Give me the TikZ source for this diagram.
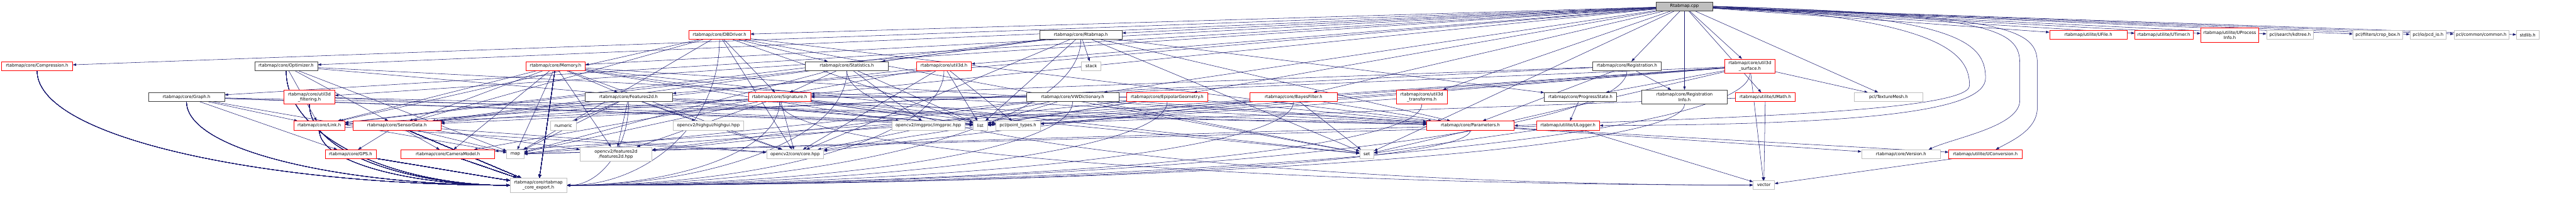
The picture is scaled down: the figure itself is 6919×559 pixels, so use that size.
\documentclass[tikz,border=0pt]{standalone}
\usepackage{fontspec}
\setmainfont{DejaVu Sans}
\usetikzlibrary{arrows.meta,backgrounds,calc}
\definecolor{edgeblue}{HTML}{191970}
\definecolor{nodegray}{HTML}{BFBFBF}
\definecolor{nodeblack}{HTML}{404040}
\definecolor{nodered}{HTML}{FF0000}
\tikzset{
  nd/.style={rectangle, fill=white, inner sep=0pt, minimum height=24pt, align=center,
    line width=1pt, font=\fontsize{11.5}{14}\selectfont},
  tall/.style={minimum height=38pt},
  rootnode/.style={nd, draw=nodeblack, fill=nodegray},
  blknode/.style={nd, draw=nodeblack},
  rednode/.style={nd, draw=nodered},
  graynode/.style={nd, draw=nodegray},
  dep/.style={draw=edgeblue, line width=0.9pt, -{Triangle[length=9pt,width=6.5pt]}}
}
% curved edge arriving horizontally at the east / west side of a target
\newcommand{\depE}[2]{\draw[dep] (#1.south) .. controls ($(#1.south)!0.6!(#1.south |- #2.east)$)
  and ($(#2.east)!0.5!(#1.south |- #2.east)$) .. (#2.east);}
\newcommand{\depW}[2]{\draw[dep] (#1.south) .. controls ($(#1.south)!0.6!(#1.south |- #2.west)$)
  and ($(#2.west)!0.5!(#1.south |- #2.west)$) .. (#2.west);}
\begin{document}
\begin{tikzpicture}[x=1pt,y=-1pt]
\useasboundingbox (0,0) rectangle (6919,559);
% row 0
\node[rootnode, minimum width=153pt] (cpp) at (4524.5,17) {Rtabmap.cpp};
% row 1
\node[rednode, minimum width=165pt] (dbdriver) at (1932.5,94) {rtabmap/core/DBDriver.h};
\node[blknode, minimum width=222pt] (rtabh) at (2903,94) {rtabmap/core/Rtabmap.h};
\node[rednode, minimum width=208pt] (ufile) at (5609,94) {rtabmap/utilite/UFile.h};
\node[rednode, minimum width=156pt] (utimer) at (5812,94) {rtabmap/utilite/UTimer.h};
\node[rednode, tall, minimum width=156pt] (uproc) at (5989,94) {rtabmap/utilite/UProcess\\Info.h};
\node[graynode, minimum width=126pt] (kdtree) at (6151,94) {pcl/search/kdtree.h};
\node[graynode, minimum width=133pt] (cropbox) at (6386.5,94) {pcl/filters/crop\_box.h};
\node[graynode, minimum width=97pt] (pcdio) at (6521.5,94) {pcl/io/pcd\_io.h};
\node[graynode, minimum width=147pt] (pclcommon) at (6664.5,94) {pcl/common/common.h};
\node[graynode, minimum width=60pt] (stdlib) at (6789,94) {stdlib.h};
% row 2
\node[rednode, minimum width=191pt] (compression) at (99.5,177.5) {rtabmap/core/Compression.h};
\node[blknode, minimum width=169pt] (optimizer) at (768.5,177.5) {rtabmap/core/Optimizer.h};
\node[rednode, minimum width=160pt] (memory) at (1492,177.5) {rtabmap/core/Memory.h};
\node[blknode, minimum width=223pt] (statistics) at (2274.5,177.5) {rtabmap/core/Statistics.h};
\node[rednode, minimum width=147pt] (utilthreed) at (2535.5,177.5) {rtabmap/core/util3d.h};
\node[graynode, minimum width=52pt] (nstack) at (2931,177.5) {stack};
\node[blknode, minimum width=184pt] (registration) at (4370,177.5) {rtabmap/core/Registration.h};
\node[rednode, tall, minimum width=136pt] (usurf) at (4700,177.5) {rtabmap/core/util3d\\\_surface.h};
% row 3
\node[blknode, minimum width=204pt] (graph) at (501,261) {rtabmap/core/Graph.h};
\node[rednode, tall, minimum width=136pt] (ufilt) at (831,261) {rtabmap/core/util3d\\\_filtering.h};
\node[blknode, minimum width=235pt] (feat) at (1688.5,261) {rtabmap/core/Features2d.h};
\node[rednode, minimum width=168pt] (signature) at (2094,261) {rtabmap/core/Signature.h};
\node[blknode, minimum width=248pt] (vwdict) at (2881,261) {rtabmap/core/VWDictionary.h};
\node[rednode, minimum width=218pt] (epipolar) at (3135,261) {rtabmap/core/EpipolarGeometry.h};
\node[rednode, minimum width=235pt] (bayes) at (3474.5,261) {rtabmap/core/BayesFilter.h};
\node[rednode, tall, minimum width=136pt] (utrans) at (3819,261) {rtabmap/core/util3d\\\_transforms.h};
\node[blknode, minimum width=194pt] (progress) at (4245,261) {rtabmap/core/ProgressState.h};
\node[blknode, tall, minimum width=229pt] (reginfo) at (4524.5,261) {rtabmap/core/Registration\\Info.h};
\node[rednode, minimum width=161pt] (umath) at (4741.5,261) {rtabmap/utilite/UMath.h};
\node[graynode, minimum width=183pt] (texmesh) at (5072.5,261) {pcl/TextureMesh.h};
% row 4
\node[rednode, minimum width=137pt] (link) at (857.5,337.5) {rtabmap/core/Link.h};
\node[rednode, minimum width=236pt] (sensordata) at (1066,337.5) {rtabmap/core/SensorData.h};
\node[graynode, minimum width=68pt] (numeric) at (1513,337.5) {numeric};
\node[graynode, minimum width=189pt] (highgui) at (1902.5,337.5) {opencv2/highgui/highgui.hpp};
\node[graynode, minimum width=197pt] (imgproc) at (2493.5,337.5) {opencv2/imgproc/imgproc.hpp};
\node[graynode, minimum width=38pt] (nlist) at (2633,337.5) {list};
\node[graynode, minimum width=120pt] (ptypes) at (2734,337.5) {pcl/point\_types.h};
\node[rednode, minimum width=235pt] (params) at (3949.5,337.5) {rtabmap/core/Parameters.h};
\node[rednode, minimum width=169pt] (ulogger) at (4211.5,337.5) {rtabmap/utilite/ULogger.h};
% row 5
\node[rednode, minimum width=137pt] (gps) at (941.5,414.5) {rtabmap/core/GPS.h};
\node[rednode, minimum width=252pt] (camera) at (1203,414.5) {rtabmap/core/CameraModel.h};
\node[graynode, minimum width=46pt] (nmap) at (1384,414.5) {map};
\node[graynode, tall, minimum width=193pt] (fhpp) at (1654.5,414.5) {opencv2/features2d\\/features2d.hpp};
\node[graynode, minimum width=153pt] (corehpp) at (2135.5,414.5) {opencv2/core/core.hpp};
\node[graynode, minimum width=38pt] (nset) at (3671,414.5) {set};
\node[graynode, minimum width=212pt] (version) at (5106,414.5) {rtabmap/core/Version.h};
\node[rednode, minimum width=197pt] (uconv) at (5332.5,414.5) {rtabmap/utilite/UConversion.h};
% row 6
\node[graynode, tall, minimum width=152pt] (nexport) at (1446,498) {rtabmap/core/rtabmap\\\_core\_export.h};
\node[graynode, minimum width=57pt, minimum height=23pt] (nvector) at (4737.5,497.5) {vector};

\begin{pgfonlayer}{background}
\fill[white] (0,0) rectangle (6919,559);
% Rtabmap.cpp
\foreach \t in {rtabh,dbdriver,ufile,utimer,uproc,kdtree,cropbox,pcdio,pclcommon,stdlib,
  compression,optimizer,memory,utilthreed,registration,usurf,graph,ufilt,feat,signature,
  vwdict,epipolar,bayes,utrans,reginfo,umath,texmesh,nset}
  \draw[dep] (cpp) -- (\t);
\draw[dep] (cpp.east) .. controls (5250,45) and (5333,110) .. (5333,210)
  .. controls (5333,300) and (5000,335) .. (ulogger.east);
\draw[dep] (cpp.east) .. controls (5230,50) and (5290,150) .. (5290,230)
  .. controls (5290,300) and (4600,318) .. (params.east);
\draw[dep] (cpp.east) .. controls (5350,40) and (5425,80) .. (5425,170) -- (5425,270)
  .. controls (5425,340) and (5250,370) .. ($(version.north)+(74,0)$);
\draw[dep] (cpp.east) .. controls (5400,40) and (5472,80) .. (5472,170) -- (5472,290)
  .. controls (5472,350) and (5400,380) .. ($(uconv.north)+(28,0)$);
% edges into rtabmap_core_export.h
\foreach \s in {rtabh,dbdriver,statistics,feat,signature,utilthreed,vwdict,epipolar,bayes,
  utrans,params,registration,reginfo,usurf}
  \depE{\s}{nexport}
\foreach \s in {compression,graph,optimizer,ufilt,link}
  \depW{\s}{nexport}
\foreach \s in {memory,sensordata,gps,camera}
  \draw[dep] (\s) -- (nexport);
% Rtabmap.h
\foreach \t in {params,sensordata,statistics,link,progress,corehpp,nlist,nstack,nset}
  \draw[dep] (rtabh) -- (\t);
% DBDriver
\foreach \t in {statistics,signature,sensordata,link,params,corehpp,nlist,nmap,nset}
  \draw[dep] (dbdriver) -- (\t);
% Statistics
\foreach \t in {signature,link,nlist,nmap,imgproc}
  \draw[dep] (statistics) -- (\t);
\depW{statistics}{nvector}
% Memory
\foreach \t in {params,sensordata,link,feat,nmap,nlist,nset,corehpp,fhpp,camera,imgproc}
  \draw[dep] (memory) -- (\t);
% Optimizer
\foreach \t in {link,params,nmap,nlist,sensordata}
  \draw[dep] (optimizer) -- (\t);
% Graph
\foreach \t in {link,gps,params,nmap,nlist,ptypes}
  \draw[dep] (graph) -- (\t);
% util3d_filtering
\foreach \t in {ptypes,params}
  \draw[dep] (ufilt) -- (\t);
% Link
\draw[dep] (link) -- (corehpp);
% SensorData
\foreach \t in {gps,camera,corehpp,fhpp,nmap}
  \draw[dep] (sensordata) -- (\t);
% Features2d
\foreach \t in {params,sensordata,numeric,fhpp,highgui,corehpp,nlist,nmap}
  \draw[dep] (feat) -- (\t);
% Signature
\foreach \t in {sensordata,link,corehpp,fhpp,nlist,nmap,nset,ptypes}
  \draw[dep] (signature) -- (\t);
\depW{signature}{nvector}
% util3d
\foreach \t in {nlist,ptypes,sensordata,camera,corehpp}
  \draw[dep] (utilthreed) -- (\t);
% VWDictionary
\foreach \t in {params,corehpp,fhpp,nmap,nlist,nset}
  \draw[dep] (vwdict) -- (\t);
% EpipolarGeometry
\foreach \t in {params,signature,corehpp,fhpp,nlist}
  \draw[dep] (epipolar) -- (\t);
% BayesFilter
\foreach \t in {params,corehpp,nlist,nset}
  \draw[dep] (bayes) -- (\t);
% util3d_transforms
\draw[dep] (utrans) -- (ptypes);
% Parameters
\foreach \t in {version,uconv,nmap}
  \draw[dep] (params) -- (\t);
\draw[dep] (progress) -- (ulogger);
\foreach \t in {nvector,nset,nmap}
  \draw[dep] (ulogger) -- (\t);
% Registration
\foreach \t in {params,reginfo,signature,sensordata}
  \draw[dep] (registration) -- (\t);
% util3d_surface
\foreach \t in {texmesh,ptypes,camera,progress,link,nset,nlist,nmap,nvector}
  \draw[dep] (usurf) -- (\t);
% UMath, UConversion
\foreach \t in {nvector,nlist}
  \draw[dep] (umath) -- (\t);
\draw[dep] (uconv) -- (nvector);
\end{pgfonlayer}
\end{tikzpicture}
\end{document}
